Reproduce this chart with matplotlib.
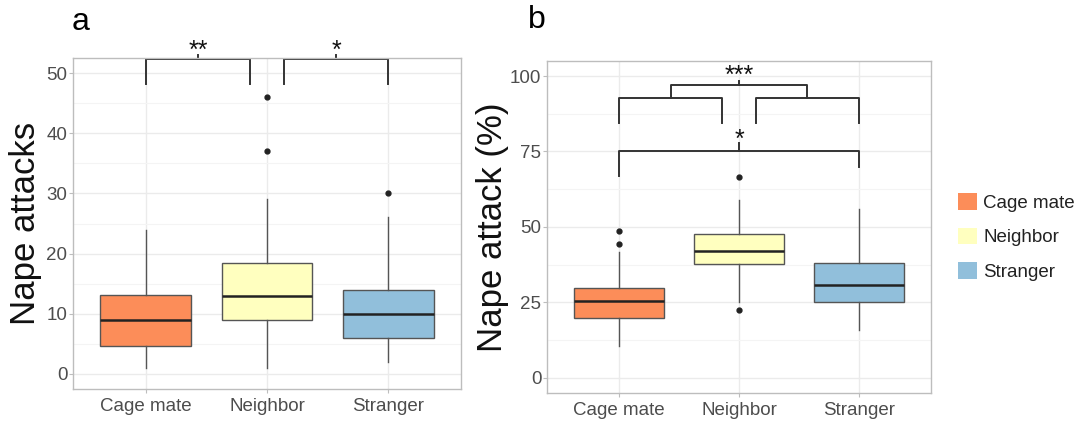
import matplotlib
matplotlib.use('Agg')
import matplotlib.pyplot as plt
from matplotlib.patches import Patch

plt.rcParams['font.family'] = ['Liberation Sans', 'DejaVu Sans']

groups = ["Cage mate", "Neighbor", "Stranger"]
colors = ["#FC8D59", "#FFFFBF", "#91BFDB"]

# panel a: nape attacks (counts)
a_med = [9, 13, 10]
a_q1 = [4.7, 9, 6]
a_q3 = [13.2, 18.4, 14]
a_wlo = [1, 1, 2]
a_whi = [24, 29, 26]
a_fliers = [[], [46, 37], [30]]

# panel b: nape attack (%)
b_med = [25.5, 42.1, 30.7]
b_q1 = [19.7, 37.6, 25.2]
b_q3 = [29.6, 47.5, 38.1]
b_wlo = [10.6, 25.2, 15.8]
b_whi = [41.8, 58.9, 55.8]
b_fliers = [[48.7, 44.3], [22.5, 66.6], []]

TXT = "#4D4D4D"
GRID = "#EBEBEB"
LINE = "#333333"


def stats(med, q1, q3, lo, hi, fl):
    out = []
    for i in range(len(med)):
        out.append(dict(med=med[i], q1=q1[i], q3=q3[i], whislo=lo[i], whishi=hi[i], fliers=fl[i]))
    return out


def draw_box(ax, st):
    bp = ax.bxp(st, positions=[1, 2, 3], widths=0.75, patch_artist=True, showcaps=False,
                boxprops=dict(edgecolor="#555555", linewidth=1.0),
                medianprops=dict(color="#222222", linewidth=1.8),
                whiskerprops=dict(color="#555555", linewidth=1.0),
                flierprops=dict(marker="o", markersize=3.5, markerfacecolor="#222222",
                                markeredgecolor="#222222"))
    for p, c in zip(bp["boxes"], colors):
        p.set_facecolor(c)
    for l in bp["whiskers"] + bp["medians"]:
        l.set_zorder(3)
    for p in bp["boxes"]:
        p.set_zorder(2)
    ax.set_xlim(0.4, 3.6)
    ax.set_xticks([1, 2, 3])
    ax.set_xticklabels(groups)
    ax.set_axisbelow(True)
    ax.grid(True, which="major", color=GRID, linewidth=1.0)
    ax.grid(True, which="minor", axis="y", color="#F4F4F4", linewidth=0.8)
    for s in ax.spines.values():
        s.set_color("#BDBDBD")
        s.set_linewidth(1.0)
    ax.tick_params(axis="both", labelsize=13.5, labelcolor=TXT, color="#BDBDBD", length=3)
    ax.tick_params(axis="y", pad=1)
    ax.tick_params(axis="x", pad=3.5)
    ax.tick_params(axis="x", which="minor", bottom=False)


def bracket(ax, x1, x2, ytop, ylo1, ylo2, label, ytick, ytext, fs=18):
    ax.plot([x1, x1, x2, x2], [ylo1, ytop, ytop, ylo2], color=LINE, lw=1.4, clip_on=False)
    xm = (x1 + x2) / 2
    ax.plot([xm, xm], [ytop, ytick], color=LINE, lw=1.4, clip_on=False)
    if label:
        ax.text(xm, ytext, label, ha="center", va="baseline", fontsize=fs, color="#111111",
                clip_on=False)


fig = plt.figure(figsize=(10.82, 4.21), dpi=100)
ax1 = fig.add_axes([73 / 1082, 32 / 421, 388 / 1082, 331 / 421])
ax2 = fig.add_axes([547 / 1082, 28.3 / 421, 384 / 1082, 331.7 / 421])

draw_box(ax1, stats(a_med, a_q1, a_q3, a_wlo, a_whi, a_fliers))
ax1.set_ylim(-2.5, 52.5)
ax1.set_yticks([0, 10, 20, 30, 40, 50])
ax1.set_yticks([5, 15, 25, 35, 45], minor=True)
ax1.tick_params(axis="y", which="minor", left=False)
ax1.set_ylabel("Nape attacks", fontsize=25, color="#111111", labelpad=3)
bracket(ax1, 1.0, 1.86, 52.3, 48.1, 48.1, "**", 53.0, 52.6)
bracket(ax1, 2.14, 3.0, 52.3, 48.1, 48.1, "*", 53.0, 52.6)
fig.text(72 / 1082, 1 - 22 / 421, "a", fontsize=23, ha="left", va="center")

draw_box(ax2, stats(b_med, b_q1, b_q3, b_wlo, b_whi, b_fliers))
ax2.set_ylim(-5, 105)
ax2.set_yticks([0, 25, 50, 75, 100])
ax2.set_yticks([12.5, 37.5, 62.5, 87.5], minor=True)
ax2.tick_params(axis="y", which="minor", left=False)
ax2.set_ylabel("Nape attack (%)", fontsize=25, color="#111111", labelpad=1)
bracket(ax2, 1.0, 1.86, 92.6, 84.3, 84.3, "", 92.6, 0)
bracket(ax2, 2.14, 3.0, 92.6, 84.3, 84.3, "", 92.6, 0)
bracket(ax2, 1.43, 2.57, 97.0, 92.6, 92.6, "***", 98.5, 97.6)
bracket(ax2, 1.0, 3.0, 75.2, 67.0, 70.0, "*", 77.8, 76.6)
fig.text(528 / 1082, 1 - 20 / 421, "b", fontsize=23, ha="left", va="center")

handles = [Patch(facecolor=c, edgecolor="none") for c in colors]
fig.legend(handles, groups, loc="upper left", bbox_to_anchor=(941 / 1082, 1 - 176 / 421),
           frameon=False, fontsize=13.5, handlelength=1.0, handleheight=1.0,
           handletextpad=0.35, labelspacing=0.85, labelcolor="#222222")

fig.savefig("out.png", dpi=100)
